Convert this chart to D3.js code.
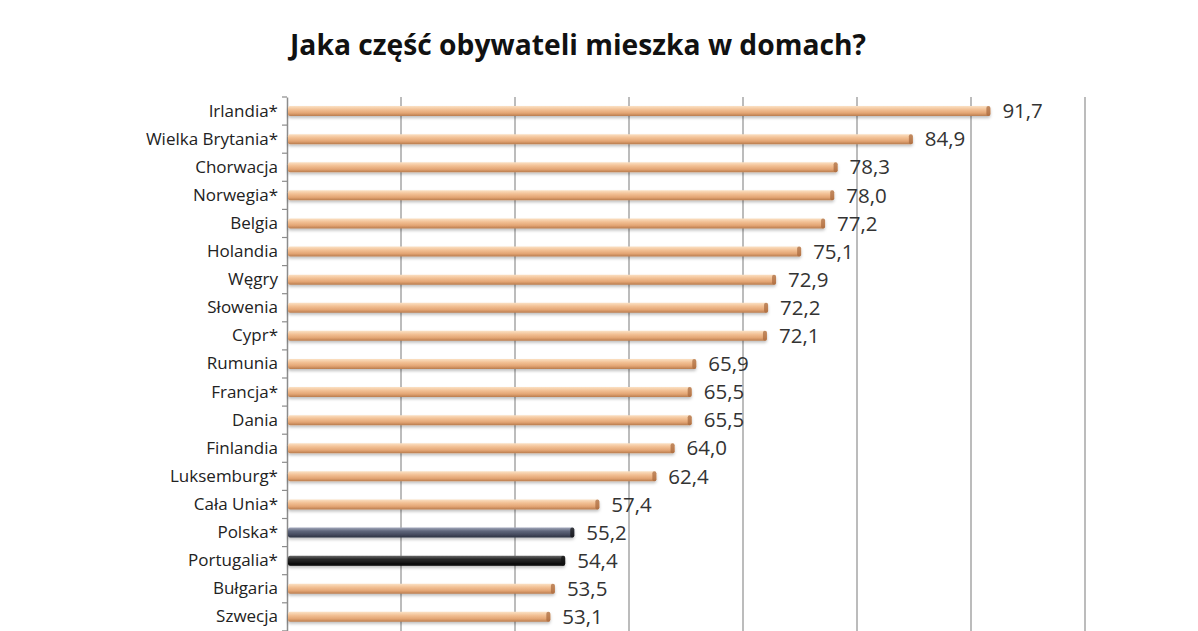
<!DOCTYPE html>
<html>
<head>
<meta charset="utf-8">
<script src="https://cdn.jsdelivr.net/npm/d3@7"></script>
<style>
  html, body { margin: 0; padding: 0; background: #fff; }
  svg { display: block; font-family: "Open Sans", "DejaVu Sans", sans-serif; }
</style>
</head>
<body>
<div id="chart"></div>
<script>
// ── Data ──
const countries = ["Irlandia*", "Wielka Brytania*", "Chorwacja", "Norwegia*", "Belgia", "Holandia",
  "Węgry", "Słowenia", "Cypr*", "Rumunia", "Francja*", "Dania", "Finlandia", "Luksemburg*",
  "Cała Unia*", "Polska*", "Portugalia*", "Bułgaria", "Szwecja"];
const shares = [91.7, 84.9, 78.3, 78.0, 77.2, 75.1, 72.9, 72.2, 72.1, 65.9, 65.5, 65.5, 64.0, 62.4,
  57.4, 55.2, 54.4, 53.5, 53.1];
const highlight = { "Polska*": "slate", "Portugalia*": "black" };
const gridTicks = [30, 40, 50, 60, 70, 80, 90, 100];

(function () {
  const W = 1198, H = 631;
  const plotL = 287, plotR = 1085, plotT = 97, rowH = 28.1;

  const svg = d3.select("#chart").append("svg").attr("width", W).attr("height", H);
  const defs = svg.append("defs");

  // cylinder-ish gradients
  const grads = {
    orange: ["#fbe1c4", "#f2c094", "#e3a574", "#b97c4e"],
    slate:  ["#a2a8bc", "#5f667b", "#464c5f", "#2c3040"],
    black:  ["#6a6a6a", "#2a2a2a", "#151515", "#000000"]
  };
  Object.entries(grads).forEach(([k, c]) => {
    const g = defs.append("linearGradient").attr("id", "g-" + k)
      .attr("x1", 0).attr("y1", 0).attr("x2", 0).attr("y2", 1);
    [0, 0.35, 0.7, 1].forEach((o, i) => g.append("stop").attr("offset", o).attr("stop-color", c[i]));
  });
  defs.append("filter").attr("id", "shadow").attr("x", "-5%").attr("y", "-50%").attr("width", "110%").attr("height", "250%")
    .append("feDropShadow").attr("dx", 0).attr("dy", 2).attr("stdDeviation", 1.5).attr("flood-color", "rgba(0,0,0,0.25)");

  const x = d3.scaleLinear().domain([30, 100]).range([plotL, plotR]);
  const y = d3.scaleBand().domain(countries).range([plotT, plotT + rowH * countries.length]);

  // title
  svg.append("text")
    .attr("x", 578).attr("y", 55)
    .attr("text-anchor", "middle")
    .attr("font-size", 28).attr("font-weight", "bold").attr("fill", "#111")
    .attr("textLength", 576).attr("lengthAdjust", "spacingAndGlyphs")
    .text("Jaka część obywateli mieszka w domach?");

  // gridlines
  svg.append("g").selectAll("line").data(gridTicks.slice(1)).join("line")
    .attr("x1", d => x(d)).attr("x2", d => x(d))
    .attr("y1", plotT).attr("y2", H)
    .attr("stroke", "#a6a6a6").attr("stroke-width", 1.5);

  // category axis
  const yAxis = svg.append("g").attr("transform", `translate(${plotL},0)`)
    .call(d3.axisLeft(y).tickSize(0).tickPadding(9));
  yAxis.select(".domain").attr("stroke", "#8c8c8c").attr("stroke-width", 1.5);
  yAxis.selectAll("text").attr("font-size", 17).attr("fill", "#222")
    .attr("font-family", "'Open Sans', sans-serif");
  // tick marks between categories
  svg.append("g").selectAll("line").data(d3.range(countries.length + 1)).join("line")
    .attr("x1", plotL - 5).attr("x2", plotL)
    .attr("y1", i => plotT + i * rowH).attr("y2", i => plotT + i * rowH)
    .attr("stroke", "#8c8c8c").attr("stroke-width", 1.2);

  // bars
  const barH = 10;
  const rows = svg.append("g").selectAll("g").data(countries).join("g")
    .attr("transform", d => `translate(0,${y(d) + y.bandwidth() / 2})`);

  rows.append("rect")
    .attr("x", plotL + 1).attr("y", -barH / 2)
    .attr("width", (d, i) => x(shares[i]) - plotL - 1).attr("height", barH)
    .attr("rx", 2)
    .attr("fill", d => `url(#g-${highlight[d] || "orange"})`)
    .attr("filter", "url(#shadow)");

  // end cap
  rows.append("rect")
    .attr("x", (d, i) => x(shares[i]) - 4).attr("y", -barH / 2)
    .attr("width", 4).attr("height", barH).attr("rx", 2)
    .attr("fill", d => highlight[d] ? "#111" : "#a8683c")
    .attr("opacity", 0.7);

  // value labels
  rows.append("text")
    .attr("x", (d, i) => x(shares[i]) + 12)
    .attr("dy", "0.35em")
    .attr("font-size", 20.5).attr("fill", "#333")
    .text((d, i) => shares[i].toFixed(1).replace(".", ","));
})();
</script>
</body>
</html>
